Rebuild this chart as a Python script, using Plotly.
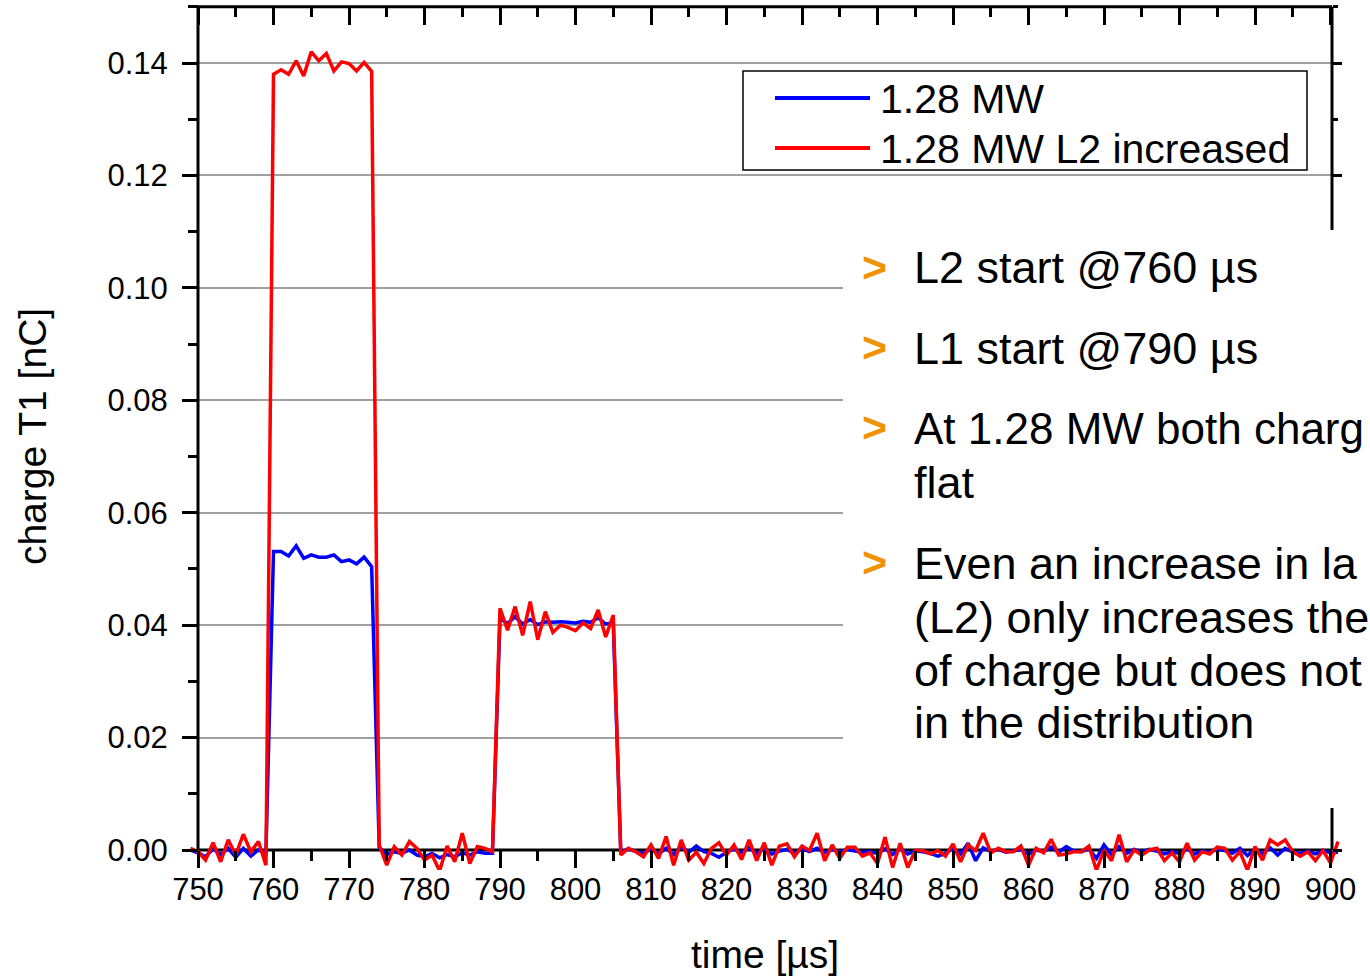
import plotly.graph_objects as go

# ---------------- data ----------------
time_us = list(range(749, 902))

series_names = ["1.28 MW", "1.28 MW L2 increased"]
series_colors = ["#0000ff", "#ff0000"]

charge_blue = [
    0.0000, -0.0005, -0.0012, 0.0002, -0.0008, 0.0003, -0.0013, 0.0003, -0.0011, 0.0000, -0.0005,   # 749-759
    0.0531, 0.0531, 0.0523, 0.0541, 0.0519, 0.0525, 0.0521, 0.0521, 0.0525, 0.0513, 0.0516, 0.0509, 0.0521, 0.0504,  # 760-773
    0.0005, -0.0008, -0.0003, -0.0006, 0.0000, -0.0009, -0.0012, -0.0006, -0.0014, -0.0008, -0.0012, -0.0005,
    -0.0009, -0.0003, -0.0006, -0.0006,  # 774-789
    0.0412, 0.0403, 0.0415, 0.0402, 0.0410, 0.0401, 0.0406, 0.0405, 0.0406, 0.0405, 0.0404, 0.0407, 0.0405,
    0.0413, 0.0402, 0.0404,  # 790-805
    -0.0004, 0.0002, -0.0003, -0.0006, 0.0002, -0.0007, 0.0003, -0.0008, 0.0006, -0.0004,  # 806-815
    0.0007, -0.0003, -0.0006, -0.0013, -0.0004, 0.0002, -0.0005, 0.0004, -0.0006, 0.0002,  # 816-825
    -0.0007, -0.0002, 0.0001, -0.0006, 0.0002, -0.0003, 0.0003, -0.0005, 0.0001, -0.0004,  # 826-835
    0.0001, -0.0002, -0.0004, -0.0003, -0.0006, 0.0002, -0.0008, 0.0003, -0.0007, -0.0002,  # 836-845
    -0.0003, -0.0006, -0.0011, -0.0006, 0.0003, -0.0007, 0.0012, -0.0019, 0.0004, -0.0003,  # 846-855
    0.0001, -0.0004, -0.0002, 0.0001, -0.0008, 0.0000, -0.0003, 0.0005, -0.0004, 0.0006,  # 856-865
    -0.0002, -0.0003, 0.0002, -0.0015, 0.0009, -0.0008, 0.0006, -0.0006, 0.0001, -0.0004,  # 866-875
    0.0001, -0.0002, -0.0007, -0.0003, -0.0006, 0.0002, -0.0007, -0.0002, -0.0004, 0.0001,  # 876-885
    -0.0001, -0.0006, 0.0003, -0.0010, 0.0002, -0.0007, 0.0004, -0.0009, 0.0003, -0.0004,  # 886-895
    -0.0006, -0.0002, -0.0007, -0.0001, -0.0005, -0.0004,  # 896-901
]

charge_red = [
    0.0003, -0.0003, -0.0018, 0.0013, -0.0021, 0.0018, -0.0009, 0.0028, -0.0003, 0.0015, -0.0027,  # 749-759
    0.1380, 0.1388, 0.1380, 0.1404, 0.1377, 0.1420, 0.1404, 0.1417, 0.1386, 0.1402, 0.1399, 0.1386, 0.1401, 0.1385,  # 760-773
    0.0009, -0.0027, 0.0006, -0.0009, 0.0015, 0.0003, -0.0018, -0.0009, -0.0037, 0.0007, -0.0021, 0.0030,
    -0.0024, 0.0006, 0.0003, -0.0003,  # 774-789
    0.0430, 0.0391, 0.0433, 0.0382, 0.0442, 0.0374, 0.0424, 0.0387, 0.0400, 0.0396, 0.0390, 0.0404, 0.0394,
    0.0427, 0.0379, 0.0418,  # 790-805
    -0.0009, 0.0003, -0.0003, -0.0012, 0.0009, -0.0015, 0.0024, -0.0027, 0.0018, -0.0018,  # 806-815
    -0.0004, -0.0024, 0.0003, 0.0013, -0.0009, 0.0009, -0.0017, 0.0018, -0.0019, 0.0013,  # 816-825
    -0.0027, 0.0007, 0.0011, -0.0012, 0.0007, -0.0001, 0.0030, -0.0019, 0.0009, -0.0015,  # 826-835
    0.0005, 0.0005, -0.0011, -0.0005, -0.0024, 0.0023, -0.0031, 0.0012, -0.0031, -0.0001,  # 836-845
    -0.0001, -0.0007, -0.0001, -0.0011, 0.0011, -0.0021, 0.0009, -0.0001, 0.0030, -0.0005,  # 846-855
    0.0003, -0.0003, -0.0003, 0.0007, -0.0027, 0.0003, -0.0005, 0.0019, -0.0009, -0.0007,  # 856-865
    -0.0003, -0.0003, 0.0007, -0.0036, 0.0000, -0.0019, 0.0027, -0.0021, 0.0000, -0.0009,  # 866-875
    0.0000, 0.0003, -0.0019, -0.0005, -0.0021, 0.0012, -0.0018, -0.0003, -0.0007, 0.0005,  # 876-885
    0.0003, -0.0018, -0.0003, -0.0036, 0.0006, -0.0018, 0.0018, 0.0009, 0.0018, -0.0003,  # 886-895
    -0.0011, -0.0003, -0.0019, -0.0001, -0.0023, 0.0015,  # 896-901
]

x_title = "time [µs]"
y_title = "charge T1 [nC]"

bullet_lines = [
    ("L2 start @760 µs", True),
    ("L1 start @790 µs", True),
    ("At 1.28 MW both charg", True),
    ("flat", False),
    ("Even an increase in la", True),
    ("(L2) only increases the", False),
    ("of charge but does not", False),
    ("in the distribution", False),
]

# ---------------- layout geometry (pixels) ----------------
W, H = 1370, 976
ML, MR, MT, MB = 189, 29, 3, 106
PW = W - ML - MR          # plot width
PH = H - MT - MB          # plot height
PX_PER_US = 7.55
PX_PER_NC = 5621.4
X0_PX, Y0_PX = 198, 850   # pixel position of (750, 0)

x_lo = 750 - (X0_PX - ML) / PX_PER_US
x_hi = x_lo + PW / PX_PER_US
y_lo = -((H - MB) - Y0_PX) / PX_PER_NC
y_hi = (Y0_PX - MT) / PX_PER_NC


def pxx(px):
    return (px - ML) / PW


def pxy(py):
    return ((H - MB) - py) / PH


FONT = "Arial, Liberation Sans, sans-serif"

fig = go.Figure()
for name, color, ys in zip(series_names, series_colors, [charge_blue, charge_red]):
    fig.add_trace(go.Scatter(x=time_us, y=ys, mode="lines", name=name,
                             line=dict(color=color, width=3.5), showlegend=False))
# empty helper trace so that the mirrored top / right axes are drawn
fig.add_trace(go.Scatter(x=[None], y=[None], xaxis="x2", yaxis="y2", mode="lines",
                         showlegend=False, hoverinfo="skip"))

x_right = 750 + (1332 - X0_PX) / PX_PER_US
y_top = 0.15

fig.update_layout(
    width=W, height=H,
    margin=dict(l=ML, r=MR, t=MT, b=MB),
    paper_bgcolor="white", plot_bgcolor="white",
    font=dict(family=FONT, color="black"),
    xaxis=dict(
        range=[x_lo, x_hi], anchor="free", position=pxy(Y0_PX),
        tick0=750, dtick=10, ticks="outside", ticklen=17, tickwidth=3, tickcolor="black",
        minor=dict(dtick=5, tick0=750, ticks="outside", ticklen=10, tickwidth=3, tickcolor="black"),
        showgrid=False, zeroline=False, showline=False,
        tickfont=dict(size=31, family=FONT, color="black"),
        ticklabelstandoff=-5,
        title=dict(text=x_title, font=dict(size=39, family=FONT, color="black"), standoff=38),
    ),
    xaxis2=dict(
        range=[x_lo, x_hi], overlaying="x", side="top", anchor="free", position=pxy(Y0_PX - y_top * PX_PER_NC),
        tick0=750, dtick=10, ticks="inside", ticklen=17, tickwidth=3, tickcolor="black",
        minor=dict(dtick=5, tick0=750, ticks="inside", ticklen=9, tickwidth=3, tickcolor="black"),
        showticklabels=False, showgrid=False, zeroline=False, showline=False,
    ),
    yaxis=dict(
        range=[y_lo, y_hi], anchor="free", position=pxx(X0_PX),
        tick0=0, dtick=0.02, tickformat=".2f",
        ticks="outside", ticklen=16, tickwidth=3, tickcolor="black",
        minor=dict(dtick=0.01, tick0=0, ticks="outside", ticklen=10, tickwidth=3, tickcolor="black"),
        showgrid=True, gridcolor="#a0a0a0", gridwidth=1.5,
        zeroline=False, showline=False,
        tickfont=dict(size=31, family=FONT, color="black"),
        ticklabelstandoff=8,
        title=dict(text=y_title, font=dict(size=39, family=FONT, color="black"), standoff=47),
    ),
    yaxis2=dict(
        range=[y_lo, y_hi], overlaying="y", side="right", anchor="free", position=pxx(1332),
        tick0=0, dtick=0.02, ticks="outside", ticklen=9, tickwidth=3, tickcolor="black",
        minor=dict(dtick=0.01, tick0=0, ticks="outside", ticklen=5, tickwidth=3, tickcolor="black"),
        showticklabels=False, showgrid=False, zeroline=False, showline=False,
    ),
)

shapes = []
# frame (between gridlines and traces)
frame = [
    (750, 0, 750, y_top),
    (750, 0, x_right, 0),
    (750, y_top, x_right, y_top),
    (x_right, y_top, x_right, (Y0_PX - 230) / PX_PER_NC),
    (x_right, (Y0_PX - 808) / PX_PER_NC, x_right, 0),
]
for x0, y0, x1, y1 in frame:
    shapes.append(dict(type="line", xref="x", yref="y", x0=x0, y0=y0, x1=x1, y1=y1,
                       line=dict(color="black", width=3), layer="between"))
# white text panel
shapes.append(dict(type="rect", xref="paper", yref="paper",
                   x0=pxx(843), x1=pxx(1400), y0=pxy(808), y1=pxy(230),
                   fillcolor="white", line=dict(width=0), layer="above"))
# legend box
shapes.append(dict(type="rect", xref="paper", yref="paper",
                   x0=pxx(743), x1=pxx(1307), y0=pxy(170), y1=pxy(71),
                   fillcolor="white", line=dict(color="black", width=1.5), layer="above"))
annotations = []
for i, (name, color) in enumerate(zip(series_names, series_colors)):
    ypx = 98 + 50 * i
    shapes.append(dict(type="line", xref="paper", yref="paper",
                       x0=pxx(775), x1=pxx(870), y0=pxy(ypx), y1=pxy(ypx),
                       line=dict(color=color, width=4), layer="above"))
    annotations.append(dict(xref="paper", yref="paper", x=pxx(878), y=pxy(ypx + 1),
                            xanchor="left", yanchor="middle", showarrow=False, text=name,
                            font=dict(size=41, family=FONT, color="black")))

line_y = [268, 348, 428, 482, 563, 617, 670, 722]
for (txt, bullet), ypx in zip(bullet_lines, line_y):
    size = 44 if txt.startswith("At 1.28") else 45
    annotations.append(dict(xref="paper", yref="paper", x=pxx(912), y=pxy(ypx),
                            xanchor="left", yanchor="middle", showarrow=False, text=txt,
                            font=dict(size=size, family=FONT, color="black")))
    if bullet:
        annotations.append(dict(xref="paper", yref="paper", x=pxx(860), y=pxy(ypx - 1),
                                xanchor="left", yanchor="middle", showarrow=False, text="<b>></b>",
                                font=dict(size=43, family=FONT, color="#f39200")))

fig.update_layout(shapes=shapes, annotations=annotations)
fig.write_html("out.html")
